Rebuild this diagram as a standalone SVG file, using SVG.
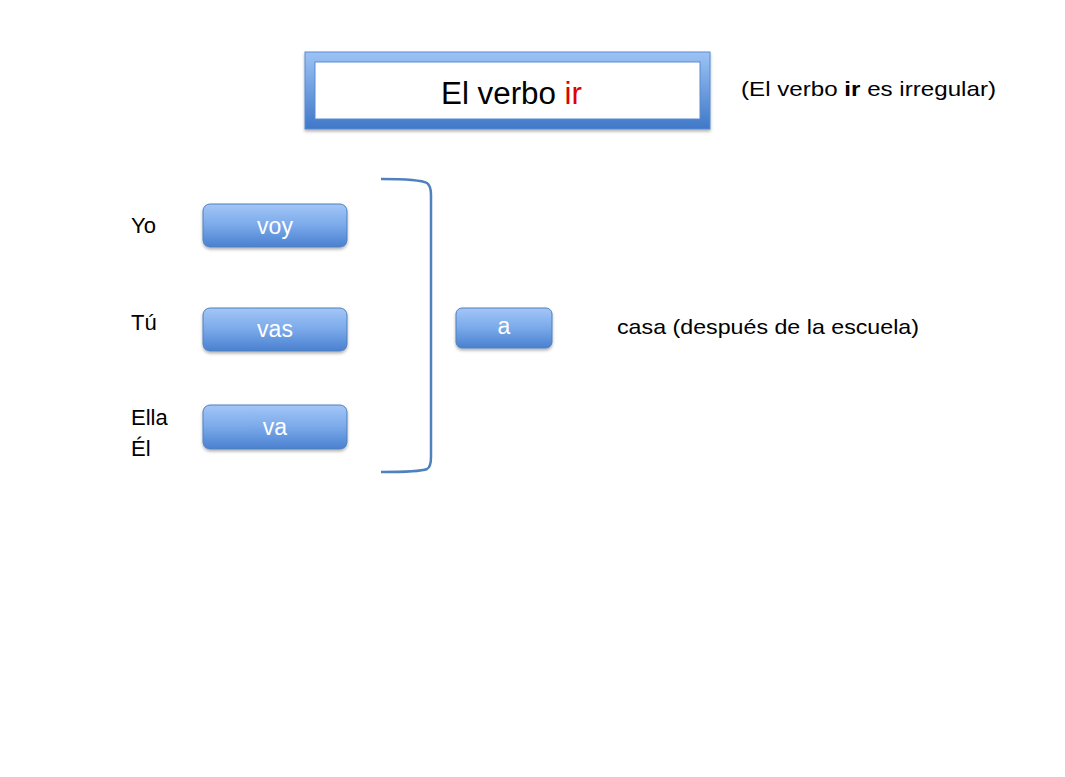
<svg xmlns="http://www.w3.org/2000/svg" width="1065" height="777" viewBox="0 0 1065 777">
<defs>
<linearGradient id="gb" x1="0" y1="0" x2="0" y2="1">
<stop offset="0" stop-color="#a3c6f7"/>
<stop offset="0.5" stop-color="#7aa9ea"/>
<stop offset="1" stop-color="#4a80cf"/>
</linearGradient>
<linearGradient id="gt" x1="0" y1="0" x2="0" y2="1">
<stop offset="0" stop-color="#9cc3f5"/>
<stop offset="1" stop-color="#3f78c8"/>
</linearGradient>
<filter id="sh" x="-10%" y="-10%" width="120%" height="140%">
<feDropShadow dx="0" dy="2" stdDeviation="1.5" flood-color="#000" flood-opacity="0.3"/>
</filter>
</defs>
<style>
.t{font-family:"Liberation Sans","Open Sans",sans-serif;fill:#000}
.b{stroke:#4f81bd;stroke-width:1;filter:url(#sh);fill:url(#gb)}
.bt{font-family:"Liberation Sans","Open Sans",sans-serif;fill:#fff;font-size:23px;text-anchor:middle}
</style>
<rect width="1065" height="777" fill="#fff"/>
<g id="title">
<rect x="305" y="52" width="405" height="77" fill="url(#gt)" stroke="#5a8ad0" stroke-width="1" filter="url(#sh)"/>
<rect x="315" y="62" width="385" height="57" fill="#fff" stroke="#5a8ad0" stroke-width="1"/>
<text class="t" x="441" y="104" font-size="31" textLength="141" lengthAdjust="spacingAndGlyphs">El verbo <tspan fill="#e00000">ir</tspan></text>
</g>
<g id="note">
<text class="t" x="741" y="96" font-size="21" textLength="255" lengthAdjust="spacingAndGlyphs">(El verbo <tspan font-weight="bold">ir</tspan> es irregular)</text>
</g>
<g id="yo"><text class="t" x="131" y="233" font-size="22">Yo</text></g>
<g id="tu"><text class="t" x="131" y="330" font-size="22">Tú</text></g>
<g id="ella"><text class="t" x="131" y="425" font-size="22">Ella</text><text class="t" x="131" y="456" font-size="22">Él</text></g>
<g id="voy"><rect class="b" x="203" y="204" width="144" height="43" rx="7"/><text class="bt" x="275" y="234">voy</text></g>
<g id="vas"><rect class="b" x="203" y="308" width="144" height="43" rx="7"/><text class="bt" x="275" y="337">vas</text></g>
<g id="va"><rect class="b" x="203" y="405" width="144" height="44" rx="7"/><text class="bt" x="275" y="435">va</text></g>
<g id="a"><rect class="b" x="456" y="308" width="96" height="40" rx="6"/><text class="bt" x="504" y="334">a</text></g>
<g id="casa"><text class="t" x="617" y="334" font-size="21" textLength="302" lengthAdjust="spacingAndGlyphs">casa (después de la escuela)</text></g>
<g id="connectors">
<path d="M381,179 Q420,179 427,183 Q431,186 431,195 L431,457 Q431,467 427,469 Q420,472 381,472" fill="none" stroke="#4f81bd" stroke-width="2.5"/>
</g>
</svg>
